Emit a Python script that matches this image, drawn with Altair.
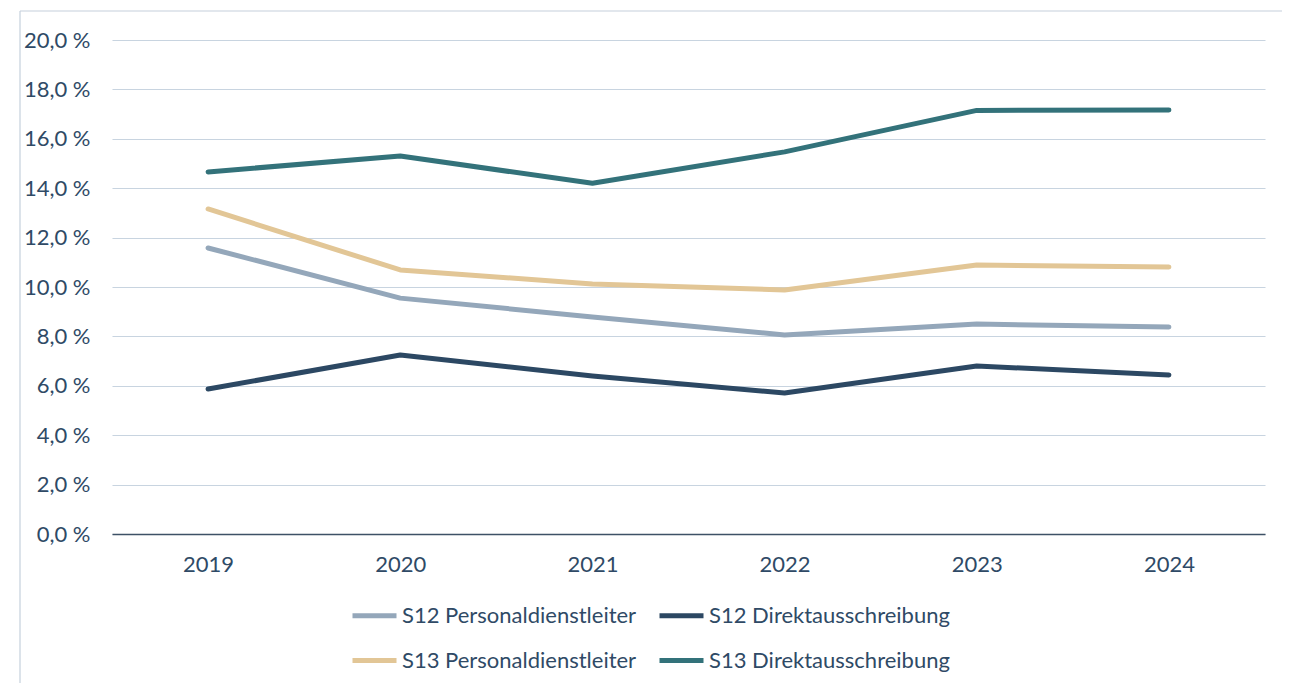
import altair as alt
import pandas as pd

years = ["2019", "2020", "2021", "2022", "2023", "2024"]
series_names = [
    "S12 Personaldienstleiter",
    "S12 Direktausschreibung",
    "S13 Personaldienstleiter",
    "S13 Direktausschreibung",
]
s12_personal = [11.58, 9.55, 8.79, 8.06, 8.50, 8.38]
s12_direkt = [5.87, 7.25, 6.40, 5.71, 6.80, 6.44]
s13_personal = [13.16, 10.69, 10.12, 9.88, 10.89, 10.81]
s13_direkt = [14.66, 15.30, 14.20, 15.47, 17.15, 17.17]
colors = {"S12 Personaldienstleiter": "#94A7BA", "S12 Direktausschreibung": "#2C4863",
          "S13 Personaldienstleiter": "#E2C696", "S13 Direktausschreibung": "#33727A"}

rows = []
for name, vals in zip(series_names, [s12_personal, s12_direkt, s13_personal, s13_direkt]):
    for y, v in zip(years, vals):
        rows.append({"Jahr": y, "Serie": name, "Wert": v})
df = pd.DataFrame(rows)

# legend grid fills column by column
legend_order = [series_names[0], series_names[2], series_names[1], series_names[3]]

FONT = "Lato"
TXT = "#2F4A66"
FS = 22

lines = alt.Chart(df).mark_line(strokeWidth=5, strokeCap="round", strokeJoin="round").encode(
    x=alt.X("Jahr:O", sort=years, scale=alt.Scale(type="point", padding=0.5),
            axis=alt.Axis(title=None, labelAngle=0, ticks=False, grid=False,
                          domainColor="#3D5166", domainWidth=1.5,
                          labelPadding=20, labelFontSize=FS, labelColor=TXT, labelFont=FONT)),
    y=alt.Y("Wert:Q", scale=alt.Scale(domain=[0, 20], nice=False),
            axis=alt.Axis(title=None, values=[0, 2, 4, 6, 8, 10, 12, 14, 16, 18, 20],
                          labelExpr="replace(format(datum.value, '.1f'), '.', ',') + ' %'",
                          domain=False, ticks=False, gridColor="#C8D4E0", gridWidth=1.2,
                          labelPadding=22, labelFontSize=FS, labelColor=TXT, labelFont=FONT)),
    color=alt.Color("Serie:N", sort=legend_order,
                    scale=alt.Scale(domain=legend_order, range=[colors[n] for n in legend_order]),
                    legend=alt.Legend(title=None, orient="none", legendX=238, legendY=551,
                                      columns=2, symbolType="stroke", symbolSize=1936,
                                      symbolStrokeWidth=5, labelFontSize=FS, labelFont=FONT,
                                      labelColor=TXT, rowPadding=9, columnPadding=12,
                                      labelOffset=3, labelLimit=400)),
)

frame = alt.Chart(pd.DataFrame({"k": [0]})).mark_rule(color="#C5D0DC", strokeWidth=1.2).encode(
    x=alt.value(-92), x2=alt.value(-92), y=alt.value(-29), y2=alt.value(700)
)
frame_top = alt.Chart(pd.DataFrame({"k": [0]})).mark_rule(color="#C5D0DC", strokeWidth=1.2).encode(
    x=alt.value(-92), x2=alt.value(1200), y=alt.value(-29), y2=alt.value(-29)
)

chart = alt.layer(frame, frame_top, lines).properties(
    width=1153, height=494,
    autosize=alt.AutoSizeParams(type="none"),
    padding={"left": 104, "top": 32, "right": 17, "bottom": 149},
).configure_view(stroke=None)

chart.save("out.html", embed_options={"renderer": "svg", "actions": False})
